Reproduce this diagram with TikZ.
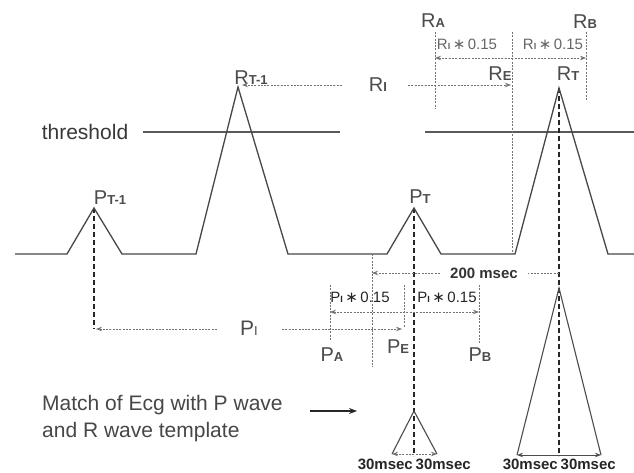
\documentclass[tikz,border=0pt]{standalone}
\usepackage{fontspec}
\setmainfont{Liberation Sans}
\newfontfamily\starfont{DejaVu Sans}
\usetikzlibrary{arrows.meta}
\newcommand\biglab[2]{{\fontsize{20}{20}\selectfont #1}{\fontsize{13}{13}\selectfont\bfseries #2}}
\newcommand\midlab[2]{{\fontsize{21}{21}\selectfont #1}{\fontsize{13}{13}\selectfont #2}}
\newcommand\smlab[2]{{\fontsize{15}{15}\selectfont #1}{\fontsize{9}{9}\selectfont\bfseries #2}}
\newcommand\mulfac{{\fontsize{15}{15}\selectfont\,{\starfont ∗}\,0.15}}
\begin{document}
\begin{tikzpicture}[x=1pt,y=-1pt,
  wave/.style={draw=black!72,line width=1.3pt},
  tdash/.style={draw=black!85,line width=2.2pt,dash pattern=on 5pt off 3pt},
  meas/.style={draw=black!55,line width=0.8pt,dash pattern=on 2pt off 1.3pt},
  tip/.style={-{Stealth[length=6pt,width=4.5pt]}},
  tips/.style={{Stealth[length=6pt,width=4.5pt]}-{Stealth[length=6pt,width=4.5pt]}},
  lab/.style={inner sep=0pt,text=black!70},
  ms/.style={inner sep=0pt,text=black!85,font=\fontsize{15}{15}\selectfont\bfseries}]
\useasboundingbox[fill=white] (0,0) rectangle (634,473);

% ---------------- waveform ----------------
\coordinate (w0) at (15,254);
\coordinate (pt1L) at (67,254);
\coordinate (pt1) at (94,208);
\coordinate (pt1R) at (122,254);
\coordinate (rt1L) at (196,254);
\coordinate (rt1) at (238,87);
\coordinate (rt1R) at (288,254);
\coordinate (ptL) at (387,254);
\coordinate (pt) at (414,208);
\coordinate (ptR) at (441,254);
\coordinate (rtL) at (515,254);
\coordinate (rt) at (559,88);
\coordinate (rtR) at (608,254);
\coordinate (wE) at (634,254);

% threshold
\node[lab,text=black!78,font=\fontsize{21}{21}\selectfont] (thr) at (85,132) {threshold};
\coordinate (thA) at (143,132);
\coordinate (thB) at (340,132);
\coordinate (thC) at (425,132);
\coordinate (thD) at (634,132);
\draw[draw=black!65,line width=1.1pt] (thA) -- (thB);
\draw[draw=black!65,line width=1.1pt] (thC) -- (thD);

% thick dashed verticals
\coordinate (pt1b) at (94,329);
\coordinate (ptbot) at (414,456);
\coordinate (rtbot) at (559,456);
\draw[tdash] (pt1) -- (pt1b);
\draw[tdash] (pt) -- (ptbot);
\draw[tdash] (rt) -- (rtbot);

\draw[wave] (w0) -- (pt1L) -- (pt1) -- (pt1R) -- (rt1L) -- (rt1) -- (rt1R)
  -- (ptL) -- (pt) -- (ptR) -- (rtL) -- (rt) -- (rtR) -- (wE);

% ---------------- peak labels ----------------
\node[lab] (lPT1) at (110,198) {\biglab{P}{T-1}};
\node[lab] (lRT1) at (251,78) {\biglab{R}{T-1}};
\node[lab] (lPT) at (420,197) {\biglab{P}{T}};
\node[lab] (lRT) at (568,74) {\biglab{R}{T}};

% ---------------- R measurement ----------------
\node[lab] (lRA) at (433,21) {\biglab{R}{A}};
\node[lab] (lRB) at (585,22) {\biglab{R}{B}};
\node[lab] (lRE) at (500,74) {\biglab{R}{E}};
\node[lab] (lRI) at (378,85) {\biglab{R}{I}};
\coordinate (raT) at (435,32);
\coordinate (raB) at (435,108);
\coordinate (rbT) at (586,32);
\coordinate (rbB) at (586,100);
\coordinate (reT) at (512,32);
\coordinate (reB) at (512,254);
\draw[meas] (raT) -- (raB);
\draw[meas] (rbT) -- (rbB);
\draw[meas] (reT) -- (reB);
\coordinate (ra58) at (435,58);
\coordinate (rb58) at (586,58);
\draw[meas,tips] (ra58) -- (rb58);
\node[lab,text=black!60] (lR15a) at (467,44) {\smlab{R}{I}\mulfac};
\node[lab,text=black!60] (lR15b) at (553,44) {\smlab{R}{I}\mulfac};
% R_I interval
\coordinate (rt1a) at (242,85);
\coordinate (riL) at (342,85);
\coordinate (riR) at (408,85);
\coordinate (rea) at (511,85);
\draw[meas,tip] (riL) -- (rt1a);
\draw[meas,tip] (riR) -- (rea);

% ---------------- 200 msec ----------------
\coordinate (s200R) at (559,273);
\coordinate (g200R) at (528,273);
\coordinate (g200L) at (440,273);
\coordinate (s200L) at (372,273);
\draw[meas] (s200R) -- (g200R);
\draw[meas,tip] (g200L) -- (s200L);
\node[ms,text=black!80] (l200) at (484,273) {200 msec};
\coordinate (v200T) at (372,254);
\coordinate (v200B) at (372,367);
\draw[meas] (v200T) -- (v200B);

% ---------------- P measurement ----------------
\coordinate (paT) at (330,285);
\coordinate (paB) at (330,340);
\coordinate (pbT) at (479,285);
\coordinate (pbB) at (479,343);
\coordinate (peT) at (404,285);
\coordinate (peB) at (404,327);
\draw[meas] (paT) -- (paB);
\draw[meas] (pbT) -- (pbB);
\draw[meas] (peT) -- (peB);
\coordinate (pa312) at (330,312);
\coordinate (pb312) at (479,312);
\draw[meas,tips] (pa312) -- (pb312);
\node[lab,text=black!85] (lP15a) at (360,297) {\smlab{P}{I}\mulfac};
\node[lab,text=black!85] (lP15b) at (447,297) {\smlab{P}{I}\mulfac};
\node[lab] (lPA) at (332,355) {\biglab{P}{A}};
\node[lab] (lPE) at (398,347) {\biglab{P}{E}};
\node[lab] (lPB) at (480,355) {\biglab{P}{B}};
% P_I interval
\node[lab] (lPI) at (249,328) {\midlab{P}{I}};
\coordinate (pia) at (96,329);
\coordinate (piL) at (217,329);
\coordinate (piR) at (282,329);
\coordinate (pie) at (402,329);
\draw[meas,tip] (piL) -- (pia);
\draw[meas,tip] (piR) -- (pie);

% ---------------- templates ----------------
\coordinate (tpP) at (414,411);
\coordinate (tpL) at (392,454);
\coordinate (tpR) at (437,454);
\draw[draw=black!70,line width=1.1pt] (tpL) -- (tpP) -- (tpR);
\draw[meas,tips] (tpL) -- (tpR);
\coordinate (trP) at (559,288);
\coordinate (trL) at (517,455);
\coordinate (trR) at (601,455);
\draw[draw=black!70,line width=1.1pt] (trL) -- (trP) -- (trR);
\draw[draw=black!70,line width=0.9pt,tips] (trL) -- (trR);
\node[ms,anchor=east] (p30a) at (413,464) {30msec};
\node[ms,anchor=west] (p30b) at (415.5,464) {30msec};
\node[ms,anchor=east] (r30a) at (558,464) {30msec};
\node[ms,anchor=west] (r30b) at (560.5,464) {30msec};

% ---------------- caption ----------------
\node[inner sep=0pt,anchor=base west,text=black!72,font=\fontsize{21}{21}\selectfont] (m1) at (42,410) {Match of Ecg with P wave};
\node[inner sep=0pt,anchor=base west,text=black!72,font=\fontsize{21}{21}\selectfont] (m2) at (42,437) {and R wave template};
\coordinate (mA) at (310,411);
\coordinate (mB) at (357,411);
\draw[draw=black!85,line width=1.5pt,-{Stealth[length=8pt,width=6pt]}] (mA) -- (mB);
\end{tikzpicture}
\end{document}
